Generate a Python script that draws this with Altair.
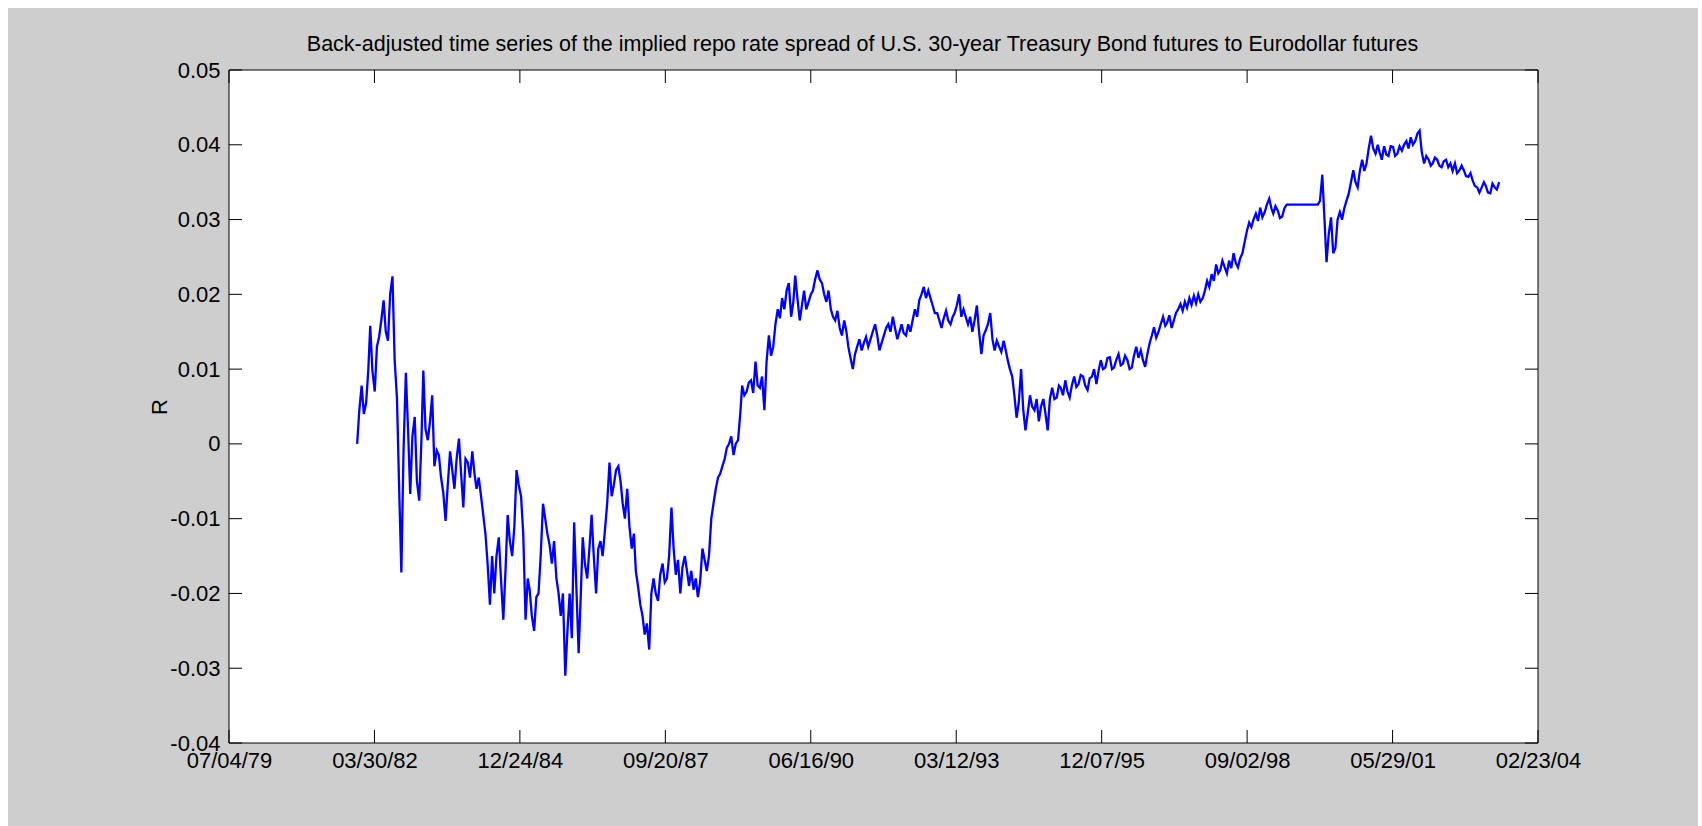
import altair as alt
import pandas as pd

# Readings of R on the 1st of each month, first value = Dec 1981 (one row per 12 months)
r_first_1982_1985 = [
    0.0000, 0.0078, 0.0055, 0.0158, 0.0070, 0.0143, 0.0192, 0.0138, 0.0224, 0.0060, -0.0172, 0.0095,
    -0.0067, 0.0036, -0.0076, 0.0098, 0.0005, 0.0065, -0.0009, -0.0045, -0.0103, -0.0010, -0.0060, 0.0007,
    -0.0085, -0.0025, -0.0010, -0.0060, -0.0070, -0.0120, -0.0215, -0.0200, -0.0125, -0.0235, -0.0095, -0.0150,
    -0.0035, -0.0070, -0.0235, -0.0195, -0.0250, -0.0200, -0.0080, -0.0120, -0.0160, -0.0180, -0.0230, -0.0310,
]
r_first_1986_1989 = [
    -0.0200, -0.0105, -0.0280, -0.0125, -0.0180, -0.0095, -0.0200, -0.0130, -0.0115, -0.0025, -0.0055, -0.0030,
    -0.0080, -0.0060, -0.0140, -0.0170, -0.0215, -0.0255, -0.0275, -0.0180, -0.0210, -0.0160, -0.0180, -0.0085,
    -0.0175, -0.0200, -0.0150, -0.0190, -0.0195, -0.0205, -0.0140, -0.0170, -0.0100, -0.0060, -0.0040, -0.0020,
    0.0000, -0.0015, 0.0005, 0.0078, 0.0070, 0.0085, 0.0110, 0.0075, 0.0045, 0.0145, 0.0130, 0.0180,
]
r_first_1990_1993 = [
    0.0195, 0.0205, 0.0170, 0.0225, 0.0165, 0.0205, 0.0190, 0.0205, 0.0232, 0.0215, 0.0190, 0.0180,
    0.0165, 0.0155, 0.0165, 0.0130, 0.0100, 0.0130, 0.0125, 0.0143, 0.0140, 0.0160, 0.0125, 0.0145,
    0.0160, 0.0170, 0.0140, 0.0160, 0.0145, 0.0150, 0.0180, 0.0192, 0.0210, 0.0205, 0.0185, 0.0175,
    0.0155, 0.0178, 0.0160, 0.0175, 0.0200, 0.0180, 0.0160, 0.0150, 0.0185, 0.0120, 0.0152, 0.0175,
]
r_first_1994_1997 = [
    0.0125, 0.0130, 0.0138, 0.0112, 0.0090, 0.0035, 0.0100, 0.0018, 0.0065, 0.0045, 0.0030, 0.0060,
    0.0018, 0.0075, 0.0062, 0.0075, 0.0085, 0.0062, 0.0090, 0.0080, 0.0090, 0.0072, 0.0090, 0.0080,
    0.0112, 0.0102, 0.0116, 0.0102, 0.0120, 0.0107, 0.0112, 0.0102, 0.0130, 0.0125, 0.0103, 0.0135,
    0.0156, 0.0150, 0.0170, 0.0162, 0.0155, 0.0175, 0.0187, 0.0190, 0.0195, 0.0198, 0.0200, 0.0195,
]
r_first_1998_2001 = [
    0.0218, 0.0227, 0.0240, 0.0232, 0.0236, 0.0245, 0.0255, 0.0236, 0.0255, 0.0285, 0.0290, 0.0308,
    0.0316, 0.0310, 0.0328, 0.0308, 0.0312, 0.0304, 0.0320, 0.0320, 0.0320, 0.0320, 0.0320, 0.0320,
    0.0320, 0.0320, 0.0360, 0.0243, 0.0303, 0.0262, 0.0310, 0.0315, 0.0335, 0.0366, 0.0343, 0.0380,
    0.0375, 0.0412, 0.0388, 0.0390, 0.0398, 0.0385, 0.0397, 0.0388, 0.0392, 0.0405, 0.0410, 0.0405,
]
r_first_2002_2003 = [
    0.0419, 0.0375, 0.0380, 0.0375, 0.0380, 0.0370, 0.0380, 0.0375, 0.0375, 0.0366, 0.0366, 0.0357,
    0.0352, 0.0343, 0.0343, 0.0345, 0.0335, 0.0343, 0.0350,
]

# Readings of R in the middle of each month (other side of the noisy band)
r_mid_1982_1985 = [
    0.0045, 0.0040, 0.0100, 0.0098, 0.0130, 0.0165, 0.0150, 0.0200, 0.0112, -0.0060, -0.0009, 0.0020,
    0.0010, -0.0050, 0.0005, 0.0020, 0.0030, -0.0030, -0.0015, -0.0065, -0.0055, -0.0035, -0.0020, -0.0040,
    -0.0020, -0.0045, -0.0040, -0.0045, -0.0095, -0.0160, -0.0150, -0.0150, -0.0180, -0.0170, -0.0130, -0.0110,
    -0.0055, -0.0120, -0.0180, -0.0230, -0.0205, -0.0150, -0.0100, -0.0135, -0.0130, -0.0200, -0.0200, -0.0250,
]
r_mid_1986_1989 = [
    -0.0260, -0.0190, -0.0200, -0.0160, -0.0140, -0.0150, -0.0140, -0.0150, -0.0080, -0.0070, -0.0035, -0.0050,
    -0.0100, -0.0110, -0.0120, -0.0190, -0.0230, -0.0240, -0.0200, -0.0200, -0.0175, -0.0185, -0.0150, -0.0140,
    -0.0155, -0.0165, -0.0170, -0.0170, -0.0180, -0.0185, -0.0155, -0.0150, -0.0080, -0.0045, -0.0030, -0.0005,
    0.0010, 0.0000, 0.0040, 0.0065, 0.0082, 0.0068, 0.0078, 0.0090, 0.0110, 0.0118, 0.0160, 0.0168,
]
r_mid_1990_1993 = [
    0.0180, 0.0215, 0.0190, 0.0195, 0.0185, 0.0180, 0.0200, 0.0220, 0.0220, 0.0200, 0.0205, 0.0170,
    0.0178, 0.0145, 0.0150, 0.0115, 0.0120, 0.0140, 0.0135, 0.0130, 0.0150, 0.0145, 0.0135, 0.0155,
    0.0150, 0.0155, 0.0150, 0.0148, 0.0160, 0.0165, 0.0170, 0.0200, 0.0195, 0.0195, 0.0175, 0.0165,
    0.0168, 0.0165, 0.0170, 0.0185, 0.0170, 0.0170, 0.0170, 0.0165, 0.0150, 0.0145, 0.0160, 0.0140,
]
r_mid_1994_1997 = [
    0.0138, 0.0123, 0.0125, 0.0100, 0.0065, 0.0055, 0.0045, 0.0040, 0.0050, 0.0060, 0.0050, 0.0040,
    0.0060, 0.0060, 0.0078, 0.0065, 0.0070, 0.0078, 0.0076, 0.0092, 0.0078, 0.0088, 0.0100, 0.0098,
    0.0100, 0.0115, 0.0100, 0.0112, 0.0105, 0.0118, 0.0100, 0.0118, 0.0115, 0.0112, 0.0120, 0.0145,
    0.0142, 0.0160, 0.0158, 0.0172, 0.0165, 0.0180, 0.0178, 0.0182, 0.0186, 0.0188, 0.0190, 0.0205,
]
r_mid_1998_2001 = [
    0.0210, 0.0218, 0.0228, 0.0245, 0.0228, 0.0235, 0.0242, 0.0248, 0.0270, 0.0296, 0.0300, 0.0298,
    0.0303, 0.0320, 0.0315, 0.0318, 0.0302, 0.0315, 0.0320, 0.0320, 0.0320, 0.0320, 0.0320, 0.0320,
    0.0320, 0.0325, 0.0300, 0.0280, 0.0255, 0.0300, 0.0300, 0.0325, 0.0350, 0.0350, 0.0365, 0.0365,
    0.0395, 0.0395, 0.0400, 0.0380, 0.0387, 0.0398, 0.0385, 0.0398, 0.0400, 0.0395, 0.0400, 0.0415,
]
r_mid_2002_2003 = [
    0.0390, 0.0385, 0.0372, 0.0383, 0.0372, 0.0378, 0.0370, 0.0365, 0.0362, 0.0372, 0.0358, 0.0362,
    0.0345, 0.0336, 0.0350, 0.0336, 0.0348, 0.0340,
]

first_vals = (r_first_1982_1985 + r_first_1986_1989 + r_first_1990_1993
              + r_first_1994_1997 + r_first_1998_2001 + r_first_2002_2003)
mid_vals = (r_mid_1982_1985 + r_mid_1986_1989 + r_mid_1990_1993
            + r_mid_1994_1997 + r_mid_1998_2001 + r_mid_2002_2003)

month_starts = pd.date_range("1981-12-01", periods=len(first_vals), freq="MS")
rows = []
for i, d in enumerate(month_starts):
    rows.append({"date": d.strftime("%Y-%m-%d"), "R": first_vals[i]})
    if i < len(mid_vals):
        rows.append({"date": d.strftime("%Y-%m-") + "16", "R": mid_vals[i]})
df = pd.DataFrame(rows)

x_tick_dates = ["1979-07-04", "1982-03-30", "1984-12-24", "1987-09-20", "1990-06-16",
                "1993-03-12", "1995-12-07", "1998-09-02", "2001-05-29", "2004-02-23"]
y_tick_values = [-0.04, -0.03, -0.02, -0.01, 0, 0.01, 0.02, 0.03, 0.04, 0.05]

TITLE = ("Back-adjusted time series of the implied repo rate spread of "
         "U.S. 30-year Treasury Bond futures to Eurodollar futures")

W, H = 1309, 673
PAD_L, PAD_T, PAD_R, PAD_B = 229, 70, 164, 83
FONT = "Liberation Sans, Arial, Helvetica, sans-serif"
FS = 22
GRAY = "#CECECE"
TICK = 13


def dt(s):
    y, m, d = (int(p) for p in s.split("-"))
    return alt.DateTime(year=y, month=m, date=d, utc=True)


x_scale = alt.Scale(type="utc", domain=[dt(x_tick_dates[0]), dt(x_tick_dates[-1])], nice=False)
y_scale = alt.Scale(domain=[-0.04, 0.05], nice=False, zero=False)

x_axis = alt.Axis(
    values=[dt(s) for s in x_tick_dates], format="%m/%d/%y", title=None,
    labelFont=FONT, labelFontSize=FS, labelColor="black", labelPadding=7,
    ticks=False, domain=False, grid=False, labelFlush=False, labelOverlap=False,
    labelBound=False, zindex=1,
)
y_axis = alt.Axis(
    values=y_tick_values, labelExpr="toString(datum.value)", title="R",
    labelFont=FONT, labelFontSize=FS, labelColor="black", labelPadding=9,
    ticks=False, domain=False, grid=False, labelFlush=False, labelOverlap=False,
    titleFont=FONT, titleFontSize=FS, titleFontWeight="normal", titleColor="black",
    titleAngle=270, titleX=-63, titleY=H / 2, titleAlign="center", titleBaseline="alphabetic",
    zindex=1,
)

one = pd.DataFrame({"k": [0]})
xt = pd.DataFrame({"d": x_tick_dates})
yt = pd.DataFrame({"v": y_tick_values})

# white page margins around the grey figure
margin_top = alt.Chart(one).mark_rect(color="white").encode(
    x=alt.value(-PAD_L), x2=alt.value(W + PAD_R), y=alt.value(-PAD_T), y2=alt.value(8 - PAD_T),
)
margin_left = alt.Chart(one).mark_rect(color="white").encode(
    x=alt.value(-PAD_L), x2=alt.value(8 - PAD_L), y=alt.value(-PAD_T), y2=alt.value(H + PAD_B),
)
margin_right = alt.Chart(one).mark_rect(color="white").encode(
    x=alt.value(1698 - PAD_L), x2=alt.value(W + PAD_R), y=alt.value(-PAD_T), y2=alt.value(H + PAD_B),
)
axes_bg = alt.Chart(one).mark_rect(fill="white", stroke="black", strokeWidth=1).encode(
    x=alt.value(0), x2=alt.value(W), y=alt.value(0), y2=alt.value(H),
)
line = alt.Chart(df).mark_line(color="#0000FF", strokeWidth=2.3).encode(
    x=alt.X("date:T", scale=x_scale, axis=x_axis),
    y=alt.Y("R:Q", scale=y_scale, axis=y_axis),
)
xt_bottom = alt.Chart(xt).mark_rule(color="black", strokeWidth=1).encode(
    x=alt.X("d:T", scale=x_scale, axis=x_axis), y=alt.value(H), y2=alt.value(H - TICK),
)
xt_top = alt.Chart(xt).mark_rule(color="black", strokeWidth=1).encode(
    x=alt.X("d:T", scale=x_scale, axis=x_axis), y=alt.value(0), y2=alt.value(TICK),
)
yt_left = alt.Chart(yt).mark_rule(color="black", strokeWidth=1).encode(
    y=alt.Y("v:Q", scale=y_scale, axis=y_axis), x=alt.value(0), x2=alt.value(TICK),
)
yt_right = alt.Chart(yt).mark_rule(color="black", strokeWidth=1).encode(
    y=alt.Y("v:Q", scale=y_scale, axis=y_axis), x=alt.value(W - TICK), x2=alt.value(W),
)
title = alt.Chart(one).mark_text(
    text=TITLE, font=FONT, fontSize=21.5, color="black", align="center", baseline="alphabetic",
).encode(x=alt.value(W / 2 - 21), y=alt.value(-19))

chart = alt.layer(
    margin_top, margin_left, margin_right, axes_bg,
    xt_bottom, xt_top, yt_left, yt_right, line, title,
).properties(
    width=W, height=H,
    padding={"left": PAD_L, "top": PAD_T, "right": PAD_R, "bottom": PAD_B},
    autosize=alt.AutoSizeParams(type="none"),
    background=GRAY,
).configure_view(stroke=None)

chart.save("out.html", embed_options={"renderer": "svg", "actions": False})
